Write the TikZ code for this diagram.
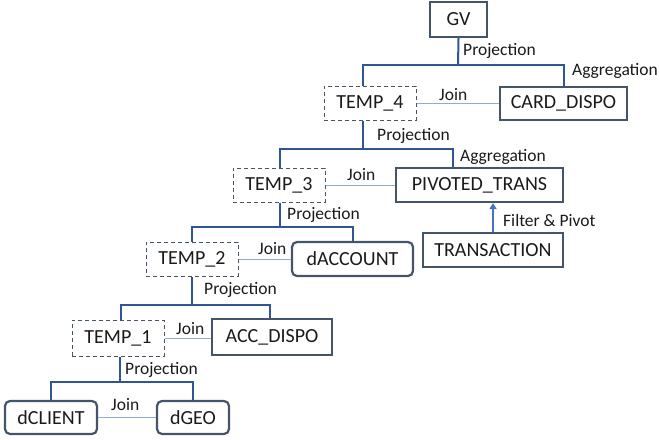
\documentclass[tikz,border=0pt]{standalone}
\usepackage{fontspec}
\setmainfont{Carlito}
\usetikzlibrary{arrows.meta}
\definecolor{boxc}{HTML}{44546A}
\definecolor{treec}{HTML}{2F5597}
\definecolor{joinc}{HTML}{8FAADC}
\definecolor{arrc}{HTML}{4472C4}
\definecolor{txt}{HTML}{1A1A1A}
\begin{document}
\begin{tikzpicture}[x=1pt,y=-1pt,
  solidbox/.style={draw=boxc, line width=2.2pt, inner sep=0pt, text=txt,
    font=\fontsize{20}{22}\selectfont},
  roundbox/.style={solidbox, rounded corners=5pt},
  tempbox/.style={draw=boxc, dashed, dash pattern=on 4pt off 3pt, line width=1pt,
    inner sep=0pt, text=txt, font=\fontsize{20}{22}\selectfont,
    minimum width=92pt, minimum height=34pt},
  treeline/.style={draw=treec, line width=2pt},
  joinline/.style={draw=joinc, line width=1pt},
  lbl/.style={font=\fontsize{17.5}{20}\selectfont, inner sep=0pt, anchor=west, text=txt}
]
\useasboundingbox (0,0) rectangle (660,439);

% nodes
\node[solidbox, minimum width=57pt, minimum height=35pt] (GV) at (458.5,19.5) {GV};
\node[tempbox] (T4) at (370,103) {TEMP\_4};
\node[solidbox, minimum width=127pt, minimum height=33pt] (CD) at (563.5,103.5) {CARD\_DISPO};
\node[tempbox] (T3) at (279,185) {TEMP\_3};
\node[solidbox, minimum width=167pt, minimum height=34pt] (PT) at (479.5,185) {PIVOTED\_TRANS};
\node[solidbox, minimum width=140pt, minimum height=34pt] (TR) at (493,250) {TRANSACTION};
\node[tempbox] (T2) at (192,259) {TEMP\_2};
\node[roundbox, minimum width=121pt, minimum height=34pt] (DA) at (352.5,259) {dACCOUNT};
\node[tempbox, minimum height=36pt] (T1) at (118,338) {TEMP\_1};
\node[solidbox, minimum width=120pt, minimum height=36pt] (AD) at (272,337) {ACC\_DISPO};
\node[roundbox, minimum width=92pt, minimum height=33pt] (DC) at (51,417.5) {dCLIENT};
\node[roundbox, minimum width=72pt, minimum height=33pt] (DG) at (193,417.5) {dGEO};

% junction points
\coordinate (j4) at (458,65);
\coordinate (j3) at (363,149);
\coordinate (j2) at (280,227);
\coordinate (j1) at (192,305);
\coordinate (j0) at (120,382);

% tree connectors
\draw[treeline] (GV.south) -- (j4);
\draw[treeline] ([xshift=-7pt]T4.north) |- (j4) -| (CD.north);
\draw[treeline] ([xshift=-7pt]T4.south) -- (j3);
\draw[treeline] ([xshift=1pt]T3.north) |- (j3) -| ([xshift=-26.5pt]PT.north);
\draw[treeline] ([xshift=1pt]T3.south) -- (j2);
\draw[treeline] (T2.north) |- (j2) -| (DA.north);
\draw[treeline] (T2.south) -- (j1);
\draw[treeline] ([xshift=3pt]T1.north) |- (j1) -| ([xshift=-2pt]AD.north);
\draw[treeline] ([xshift=2pt]T1.south) -- (j0);
\draw[treeline] (DC.north) |- (j0) -| (DG.north);

% join connectors
\draw[joinline] (T4.east) -- (CD.west |- T4.east);
\draw[joinline] (T3.east) -- (PT.west |- T3.east);
\draw[joinline] (T2.east) -- (DA.west |- T2.east);
\draw[joinline] (T1.east) -- (AD.west |- T1.east);
\draw[joinline] (DC.east) -- (DG.west |- DC.east);

% arrow
\draw[draw=arrc, line width=2pt, -{Triangle[length=6pt,width=7pt]}] (TR.north) -- (TR.north |- PT.south);

% labels
\node[lbl] (l1) at (463,51) {Projection};
\node[lbl] (l2) at (572,71) {Aggregation};
\node[lbl] (l3) at (439,95) {Join};
\node[lbl] (l4) at (377,136) {Projection};
\node[lbl] (l5) at (460,157) {Aggregation};
\node[lbl] (l6) at (347,175) {Join};
\node[lbl] (l7) at (503,220) {Filter \& Pivot};
\node[lbl] (l8) at (287,215) {Projection};
\node[lbl] (l9) at (258,249) {Join};
\node[lbl] (l10) at (204,290) {Projection};
\node[lbl] (l11) at (176,329) {Join};
\node[lbl] (l12) at (125,370) {Projection};
\node[lbl] (l13) at (111,405) {Join};
\end{tikzpicture}
\end{document}
